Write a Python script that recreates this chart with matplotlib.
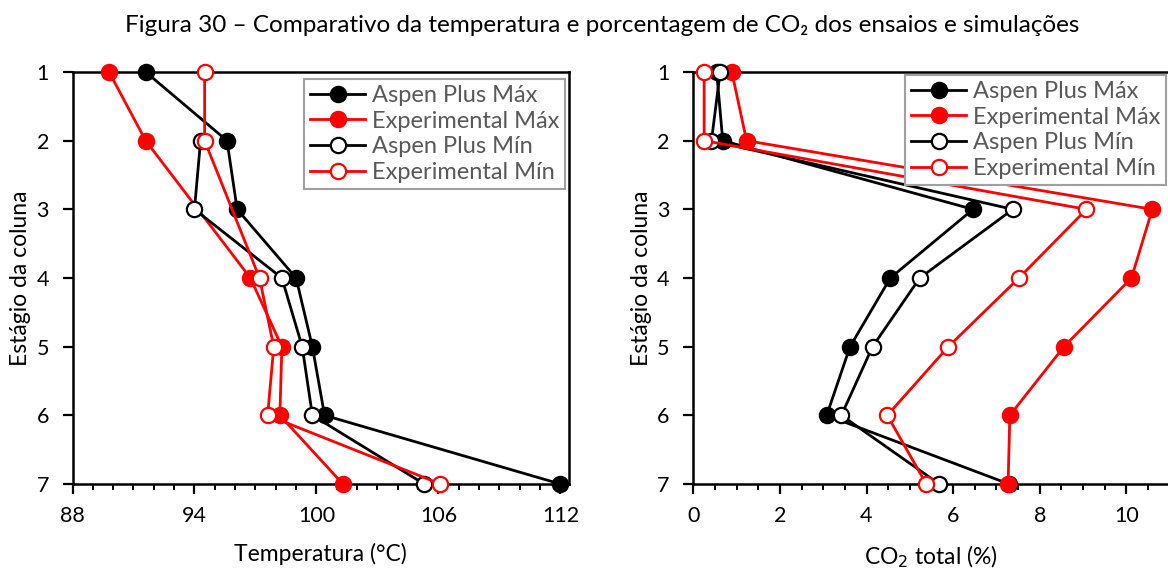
import numpy as np
import matplotlib
matplotlib.use("Agg")
import matplotlib.pyplot as plt
from matplotlib.ticker import MultipleLocator

plt.rcParams['font.family'] = ['Lato', 'DejaVu Sans']

stages = [1, 2, 3, 4, 5, 6, 7]
series_names = ["Aspen Plus Máx", "Experimental Máx", "Aspen Plus Mín", "Experimental Mín"]

# Temperature (°C)
temp_ticks = [88, 94, 100, 106, 112]
temp_aspen_max = [91.6, 95.6, 96.1, 99.0, 99.8, 100.4, 112.0]
temp_exp_max = [89.8, 91.6, np.nan, 96.75, 98.3, 98.2, 101.3]
temp_aspen_min = [np.nan, 94.3, 94.0, 98.3, 99.3, 99.8, 105.3]
temp_exp_min = [94.5, 94.5, np.nan, 97.2, 97.9, 97.6, 106.1]

# CO2 total (%)
co2_ticks = [0, 2, 4, 6, 8, 10]
co2_aspen_max = [0.54, 0.68, 6.46, 4.55, 3.62, 3.08, 7.29]
co2_exp_max = [0.89, 1.23, 10.6, 10.12, 8.56, 7.31, 7.27]
co2_aspen_min = [0.62, 0.42, 7.38, 5.23, 4.14, 3.42, 5.68]
co2_exp_min = [0.25, 0.25, 9.08, 7.52, 5.89, 4.48, 5.38]

title = "Figura 30 – Comparativo da temperatura e porcentagem de CO₂ dos ensaios e simulações"

styles = [
    dict(color="black", mfc="black"),
    dict(color="#ff0000", mfc="#ff0000"),
    dict(color="black", mfc="white"),
    dict(color="#ff0000", mfc="white"),
]

fig = plt.figure(figsize=(11.68, 5.69), dpi=100)
W, H = 1168, 569

def ax_rect(x0, x1, ytop, ybot):
    return [x0 / W, 1 - ybot / H, (x1 - x0) / W, (ybot - ytop) / H]

axL = fig.add_axes(ax_rect(72.5, 568.5, 72, 484))
axR = fig.add_axes(ax_rect(693.3, 1169.6, 72, 484))

TFS = 15.5
LFS = 16.5
GFS = 17

def draw(ax, data, xlim, ticks, minor, xlabel, leg_anchor):
    st = np.array(stages, dtype=float)
    for vals, name, s in zip(data, series_names, styles):
        v = np.array(vals, dtype=float)
        m = ~np.isnan(v)
        ax.plot(v[m], st[m], '-o', color=s["color"], mfc=s["mfc"], mec=s["color"],
                lw=2.0, ms=11, mew=1.6, label=name, clip_on=False, zorder=3)
    ax.set_xlim(*xlim)
    ax.set_ylim(7, 1)
    ax.set_yticks(stages)
    ax.set_xticks(ticks)
    ax.xaxis.set_minor_locator(MultipleLocator(minor))
    ax.tick_params(axis='both', which='major', direction='out', length=7, width=1.6,
                   labelsize=TFS, colors='black')
    ax.tick_params(axis='y', which='major', pad=10)
    ax.tick_params(axis='x', which='major', pad=9)
    ax.tick_params(axis='x', which='minor', direction='out', length=4, width=1.4)
    for sp in ax.spines.values():
        sp.set_linewidth(1.8)
        sp.set_color('black')
    ax.set_xlabel(xlabel, fontsize=LFS, labelpad=12)
    ax.set_ylabel("Estágio da coluna", fontsize=LFS, labelpad=4)
    leg = ax.legend(loc='upper right', bbox_to_anchor=leg_anchor, borderaxespad=0,
                    fancybox=False, edgecolor='#a0a0a0', fontsize=GFS,
                    handlelength=2.3, handletextpad=0.3, labelspacing=0.2,
                    borderpad=0.25, framealpha=1)
    leg.get_frame().set_linewidth(1.5)
    for t in leg.get_texts():
        t.set_color('#595959')

draw(axL, [temp_aspen_max, temp_exp_max, temp_aspen_min, temp_exp_min],
     (88, 112.4), temp_ticks, 1, "Temperatura (°C)", (0.993, 0.983))
draw(axR, [co2_aspen_max, co2_exp_max, co2_aspen_min, co2_exp_min],
     (0, 11), co2_ticks, 0.5, "CO$_2$ total (%)", (0.9925, 0.993))

fig.text(602 / W, 1 - 25 / H, title, ha='center', va='center', fontsize=17.5)

fig.savefig("out.png", dpi=100)
